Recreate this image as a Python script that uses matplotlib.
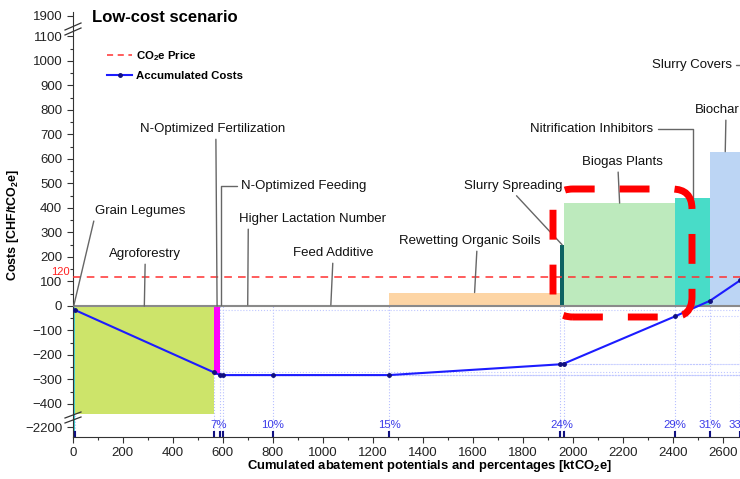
import numpy as np
import matplotlib
matplotlib.use("Agg")
from matplotlib import pyplot as plt
from matplotlib.lines import Line2D
from matplotlib.patches import FancyBboxPatch
from matplotlib.transforms import IdentityTransform, blended_transform_factory
from matplotlib.ticker import FixedLocator

plt.rcParams['font.family'] = ['Liberation Sans', 'DejaVu Sans']
plt.rcParams['mathtext.fontset'] = 'custom'
plt.rcParams['mathtext.rm'] = 'Liberation Sans'
plt.rcParams['mathtext.bf'] = 'Liberation Sans:bold'

# DATA
measures = ["Grain Legumes", "Agroforestry", "N-Optimized Fertilization", "N-Optimized Feeding",
            "Higher Lactation Number", "Feed Additive", "Rewetting Organic Soils", "Slurry Spreading",
            "Biogas Plants", "Nitrification Inhibitors", "Biochar", "Slurry Covers"]
potential = [8, 557, 25, 10, 200, 465, 685, 15, 445, 140, 120, 120]          # ktCO2e
cost = [-2300, -440, -280, 6, 4, 4, 55, 250, 420, 440, 630, 1950]            # CHF/tCO2e
accumulated = [-16, -271, -282, -282, -282, -282, -238, -235, -42, 22, 105, 350]
pct_labels = ["", "7%", "7%", "7%", "10%", "15%", "24%", "24%", "29%", "31%", "33%", "35%"]
co2_price = 120
colors = ["#3fd0d0", "#cde46a", "#ff00ff", "#b02020", "#5fd85a", "#4aa8e0",
          "#fdd5a5", "#0e6262", "#bdeabd", "#48dcc8", "#bcd5f4", "#f4c0c0"]

# label placement (text centre in data units, where the leader leaves the text, leader style)
label_pos = [(269, 388), (290, 212), (561, 722), (673, 490), (961, 355), (1041, 216),
             (1589, 265), (1761, 490), (2197, 588), (2077, 722), (2577, 800), (2477, 984)]
label_rel = [(0, 0), (0.5, 0), (0.52, 0), (0, 0.5), (0.06, 0), (0.5, 0),
             (0.55, 0), (0.5, 0), (0.45, 0), (1, 0.5), (0.7, 0), (1, 0.5)]
label_ha = ["center"] * 12
label_ha[3] = "left"
elbow = [False, False, False, True, False, False, False, False, False, True, False, True]

ends = np.cumsum(potential)
starts = ends - np.array(potential)
centers = starts + np.array(potential) / 2
xmax = 2669

# broken y axis: piecewise linear scale
ys = [-20000, -2200, -460, 1140, 1900, 20000]
fs = [-494 - 17806, -494, -460, 1140, 1184, 1184 + 18100]


def fwd(y):
    return np.interp(y, ys, fs)


def inv(f):
    return np.interp(f, fs, ys)


fig = plt.figure(figsize=(7.4, 4.79), dpi=100)
ax = fig.add_axes([72.7 / 740, 1 - 437 / 479, 1 - 72.7 / 740, 425 / 479])
ax.set_yscale('function', functions=(fwd, inv))
ax.set_xlim(0, xmax)
ax.set_ylim(inv(-534.7), inv(1200))

ax.bar(starts, cost, width=potential, align='edge', color=colors, linewidth=0, zorder=2)
ax.axhline(0, color='#8a8a8a', lw=1.5, zorder=3)

ybot = ax.get_ylim()[0]
ax.vlines(ends, ybot, 0, colors='#b8c0ff', linestyles=':', lw=0.8, zorder=1)
ax.hlines(accumulated, ends, xmax, colors='#c0c8ff', linestyles=':', lw=0.8, zorder=1)

ax.axhline(co2_price, color='#ff3030', lw=1.1, ls=(0, (5, 4)), zorder=5)
ax.text(-10, co2_price, str(co2_price), color='#ff2020', fontsize=8, ha='right', va='bottom')

ax.plot(ends, accumulated, color='#1c1cff', lw=1.5, marker='o', ms=2.5,
        mfc='#101080', mec='#101080', zorder=6)

trans = blended_transform_factory(ax.transData, ax.transAxes)
ax.vlines(ends, 0, 0.013, colors='#101080', lw=1.5, transform=trans, zorder=6)
# repeated percentages sit on top of each other: one label per group, at its mean position
groups = {}
for xi, lab in zip(ends, pct_labels):
    if lab:
        groups.setdefault(lab, []).append(xi)
for lab, xs in groups.items():
    xc = np.mean(xs)
    if xc > xmax + 40:
        continue
    ax.text(xc, 0.029, lab, color='#3a3ae8', fontsize=8.2, ha='center', va='center',
            transform=trans)

for i, name in enumerate(measures):
    target = (centers[i], max(cost[i], 0))
    if i == 0:
        target = (centers[i], 0)
    conn = "angle,angleA=0,angleB=90,rad=0" if elbow[i] else "arc3"
    ax.annotate(name, xy=target, xytext=label_pos[i], fontsize=9.5, color='#111111',
                ha=label_ha[i], va='center', annotation_clip=False, zorder=7,
                arrowprops=dict(arrowstyle='-', color='#666666', lw=1, relpos=label_rel[i],
                                shrinkA=1, shrinkB=0, connectionstyle=conn))

# axes styling
for s in ['top', 'right']:
    ax.spines[s].set_visible(False)
ax.spines['left'].set_color('#333333')
ax.spines['bottom'].set_color('#333333')
ax.yaxis.set_major_locator(FixedLocator([-2200, -400, -300, -200, -100, 0, 100, 200, 300, 400,
                                         500, 600, 700, 800, 900, 1000, 1100, 1900]))
ax.yaxis.set_minor_locator(FixedLocator(np.arange(-350, 1100, 100)))
ax.xaxis.set_major_locator(FixedLocator(np.arange(0, 2601, 200)))
ax.xaxis.set_minor_locator(FixedLocator(np.arange(100, 2700, 200)))
ax.tick_params(which='major', length=4, width=0.8, color='#333333', labelsize=9.5, labelcolor='#222222')
ax.tick_params(which='minor', length=2.5, width=0.8, color='#333333')

ax.set_ylabel("Costs [CHF/tCO$_\\mathbf{2}$e]", fontsize=9, fontweight='bold')
ax.yaxis.set_label_coords(-0.077, 0.5)
ax.set_xlabel("Cumulated abatement potentials and percentages [ktCO$_\\mathbf{2}$e]",
              fontsize=9.4, fontweight='bold')
ax.xaxis.set_label_coords(0.534, -0.05)

# axis break marks
def fpx(x, y):
    return (x / 740, 1 - y / 479)

for (x0, y0, x1, y1) in [(65, 30, 81, 23), (65, 35, 81, 28), (65, 418, 81, 412), (65, 423, 81, 417)]:
    p0, p1 = fpx(x0, y0), fpx(x1, y1)
    fig.add_artist(Line2D([p0[0], p1[0]], [p0[1], p1[1]], color='#333333', lw=0.9,
                          transform=fig.transFigure))

fig.text(92 / 740, 1 - 17 / 479, "Low-cost scenario", fontsize=12, fontweight='bold', va='center')

handles = [Line2D([], [], color='#ff3030', lw=1.1, ls=(0, (4, 3))),
           Line2D([], [], color='#1c1cff', lw=1.5, marker='o', ms=2.5, mfc='#101080', mec='#101080')]
fig.legend(handles, ["CO$_\\mathbf{2}$e Price", "Accumulated Costs"], loc='upper left',
           bbox_to_anchor=fpx(97, 39), frameon=False, prop={'weight': 'bold', 'size': 8.2},
           handlelength=2.2, handletextpad=0.35, labelspacing=0.7)

# red highlight drawn over the chart
hl = FancyBboxPatch((553, 479 - 317), 139, 128, boxstyle='round,pad=0,rounding_size=20',
                    transform=IdentityTransform(), fill=False, edgecolor='#ff0000', lw=5,
                    linestyle=(0, (4.3, 3.6)), capstyle='butt', zorder=20)
fig.add_artist(hl)

fig.savefig("out.png", dpi=100)
